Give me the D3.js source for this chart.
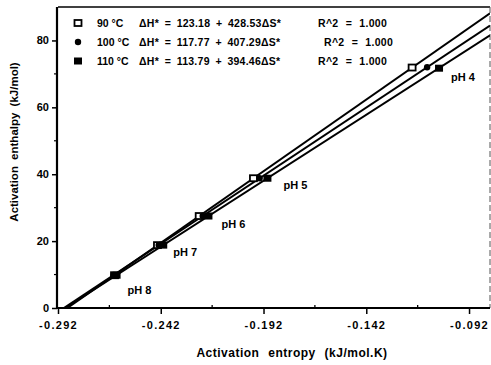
<!DOCTYPE html>
<html><head><meta charset="utf-8">
<script src="https://cdn.jsdelivr.net/npm/d3@7"></script>
<style>
html,body{margin:0;padding:0;background:#fff;}
svg{display:block;font-family:"Liberation Sans",Arial,sans-serif;font-weight:bold;}
</style></head>
<body><svg id="c" width="491" height="365"></svg>
<script>
// ---- data ----
const temps = ["90 °C", "100 °C", "110 °C"];
const intercepts = [123.18, 117.77, 113.79];
const slopes = [428.53, 407.29, 394.46];
const r2 = ["1.000", "1.000", "1.000"];
const phLabels = ["pH 4", "pH 5", "pH 6", "pH 7", "pH 8"];
const dS_90  = [-0.1197, -0.1969, -0.2233, -0.2436, -0.2645];
const dH_90  = [71.9, 38.8, 27.5, 18.8, 9.8];
const dS_100 = [-0.1124, -0.1939, -0.2216, -0.2430, -0.2650];
const dH_100 = [72.0, 38.8, 27.5, 18.8, 9.8];
const dS_110 = [-0.1066, -0.1901, -0.2188, -0.2408, -0.2635];
const dH_110 = [71.7, 38.8, 27.5, 18.8, 9.8];
const xTicks = [-0.292, -0.242, -0.192, -0.142, -0.092];
const xMinor = [-0.267, -0.217, -0.167, -0.117];
const yTicks = [0, 20, 40, 60, 80];
const yMinor = [10, 30, 50, 70];

const seriesS = [dS_90, dS_100, dS_110];
const seriesH = [dH_90, dH_100, dH_110];
const markerKinds = ["openSquare", "circle", "filledSquare"];

// ---- layout ----
const svg = d3.select("#c");
const L = 58, R = 490, T = 7, B = 308;
const x = d3.scaleLinear().domain([-0.292, -0.0818]).range([L, R]);
const y = d3.scaleLinear().domain([0, 90]).range([B, T]);

svg.append("defs").append("clipPath").attr("id", "clip")
  .append("rect").attr("x", L).attr("y", T).attr("width", R - L).attr("height", B - T);

// frame top/right
svg.append("line").attr("x1", L).attr("x2", R).attr("y1", T).attr("y2", T)
  .attr("stroke", "#000").attr("stroke-width", 1.3);
svg.append("line").attr("x1", R).attr("x2", R).attr("y1", T).attr("y2", B)
  .attr("stroke", "#555").attr("stroke-width", 1).attr("stroke-dasharray", "6,3");

// regression lines
const g = svg.append("g").attr("clip-path", "url(#clip)");
temps.forEach((t, i) => {
  const a = intercepts[i], b = slopes[i];
  const s0 = (0 - a) / b, s1 = x.domain()[1];
  g.append("line")
    .attr("x1", x(s0)).attr("y1", y(a + b * s0))
    .attr("x2", x(s1)).attr("y2", y(a + b * s1))
    .attr("stroke", "#000").attr("stroke-width", 2);
});

function marker(sel, kind, cx, cy) {
  if (kind === "circle") {
    sel.append("circle").attr("cx", cx).attr("cy", cy).attr("r", 3.2).attr("fill", "#000");
  } else if (kind === "openSquare") {
    sel.append("rect").attr("x", cx - 3.5).attr("y", cy - 3).attr("width", 7).attr("height", 6)
      .attr("fill", "#fff").attr("stroke", "#000").attr("stroke-width", 1.8);
  } else {
    sel.append("rect").attr("x", cx - 4).attr("y", cy - 3.5).attr("width", 8).attr("height", 7)
      .attr("fill", "#000");
  }
}

// points
seriesS.forEach((arr, i) => {
  arr.forEach((s, j) => marker(g, markerKinds[i], x(s), y(seriesH[i][j])));
});

// pH labels (offset from 110 °C point)
const labOff = [[12, 13], [16, 11], [13, 12], [10, 11], [11, 19]];
phLabels.forEach((p, j) => {
  svg.append("text").attr("x", x(dS_110[j]) + labOff[j][0]).attr("y", y(dH_110[j]) + labOff[j][1])
    .attr("font-size", 11).text(p);
});

// axes
const xAxis = svg.append("g").attr("transform", `translate(0,${B})`)
  .call(d3.axisBottom(x).tickValues(xTicks).tickFormat(d3.format(".3f")).tickSize(6).tickSizeOuter(0));
xAxis.select(".domain").attr("stroke-width", 2).attr("d", `M${L - 1},0H${R}`);
xAxis.selectAll(".tick line").attr("stroke-width", 1.5);
xAxis.selectAll("text").attr("font-size", 11).attr("font-weight", "bold")
  .attr("font-family", "Liberation Sans, Arial, sans-serif").attr("letter-spacing", "1.3px")
  .attr("dy", "1.05em").text(d => d3.format(".3f")(d).replace("−", "-"));
xMinor.forEach(v => svg.append("line").attr("x1", x(v)).attr("x2", x(v)).attr("y1", B).attr("y2", B - 3)
  .attr("stroke", "#000").attr("stroke-width", 1.3));

const yAxis = svg.append("g").attr("transform", `translate(${L - 1},0)`)
  .call(d3.axisLeft(y).tickValues(yTicks).tickSize(5).tickSizeOuter(0));
yAxis.select(".domain").attr("stroke-width", 2.2).attr("d", `M0,${B}V${T}`);
yAxis.selectAll(".tick line").attr("stroke-width", 1.5);
yAxis.selectAll("text").attr("font-size", 11).attr("font-weight", "bold")
  .attr("font-family", "Liberation Sans, Arial, sans-serif");
yMinor.forEach(v => svg.append("line").attr("x1", L - 1).attr("x2", L - 4).attr("y1", y(v)).attr("y2", y(v))
  .attr("stroke", "#000").attr("stroke-width", 1.2));

// axis titles
svg.append("text").attr("x", 292).attr("y", 357).attr("text-anchor", "middle")
  .attr("font-size", 12).attr("letter-spacing", "0.5px").attr("word-spacing", "5px")
  .text("Activation entropy (kJ/mol.K)");
svg.append("text").attr("transform", "translate(18,142) rotate(-90)").attr("text-anchor", "middle")
  .attr("font-size", 11.5).attr("word-spacing", "3px").text("Activation enthalpy (kJ/mol)");

// legend
const legY = [23, 42, 61];
const rXs = [318, 324, 318];
temps.forEach((t, i) => {
  marker(svg, markerKinds[i], 78, legY[i]);
  svg.append("text").attr("x", 97).attr("y", legY[i] + 4).attr("font-size", 10.5).text(t);
  svg.append("text").attr("x", 139).attr("y", legY[i] + 4).attr("font-size", 10.5)
    .attr("letter-spacing", "0.25px").attr("word-spacing", "2.5px")
    .text(`ΔH* = ${intercepts[i].toFixed(2)} + ${slopes[i].toFixed(2)}ΔS*`);
  svg.append("text").attr("x", rXs[i]).attr("y", legY[i] + 4).attr("font-size", 10.5)
    .attr("letter-spacing", "0.3px").attr("word-spacing", "4px")
    .text(`R^2 = ${r2[i]}`);
});
</script></body></html>
